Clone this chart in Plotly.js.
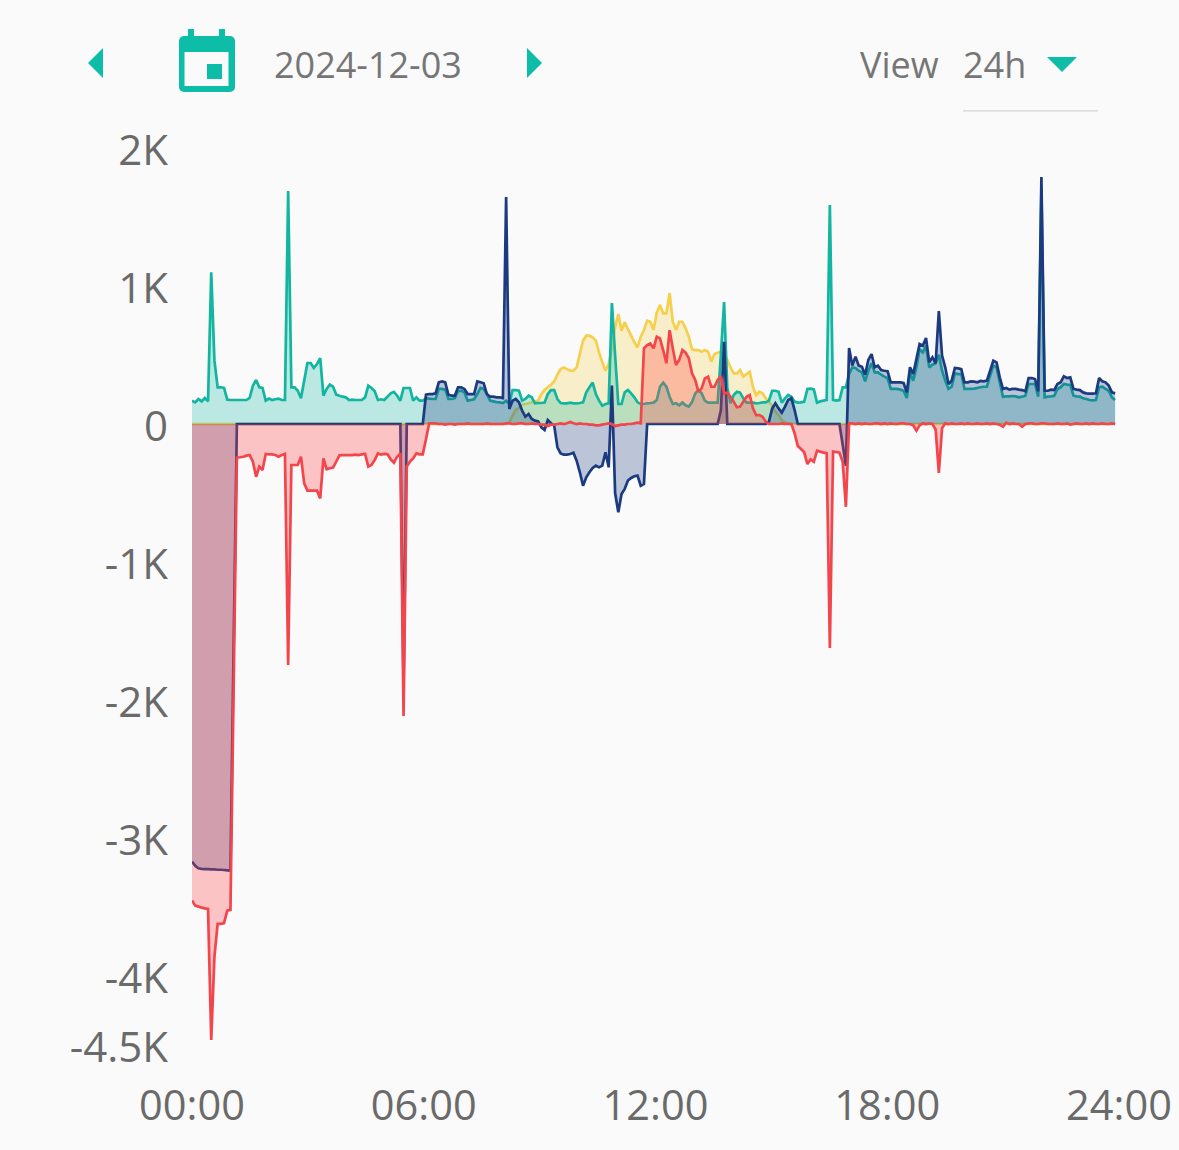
<!DOCTYPE html>
<html>
<head>
<meta charset="utf-8">
<script src="https://cdn.plot.ly/plotly-3.0.1.min.js"></script>
<style>
html,body{margin:0;padding:0;background:#fafafa;width:1179px;height:1150px;overflow:hidden}
#chart{position:absolute;left:0;top:0;width:1179px;height:1150px}
.t{position:absolute;font-family:"Open Sans",sans-serif;font-size:36px;color:#767676;line-height:40px;white-space:nowrap}
#icons{position:absolute;left:0;top:0}
</style>
</head>
<body>
<div id="chart"></div>
<svg id="icons" width="1179" height="120" viewBox="0 0 1179 120">
<polygon points="103,48 103,78 88,63" fill="#0dbda7"/>
<polygon points="527,48 527,78 542,63" fill="#0dbda7"/>
<polygon points="1047,57 1077,57 1062,72" fill="#0dbda7"/>
<rect x="188" y="29" width="6" height="10" fill="#0dbda7"/>
<rect x="219" y="29" width="6" height="10" fill="#0dbda7"/>
<rect x="179" y="36" width="56" height="56" rx="5" fill="#0dbda7"/>
<rect x="184.5" y="52" width="44" height="34" fill="#fafafa"/>
<rect x="207" y="64" width="15" height="15" fill="#0dbda7"/>
<rect x="963" y="110" width="135" height="1.6" fill="#dcdcdc"/>
</svg>
<div class="t" style="left:274px;top:45px">2024-12-03</div>
<div class="t" style="left:860px;top:45px">View</div>
<div class="t" style="left:963px;top:45px">24h</div>
<script>
const tickHours = [0, 6, 12, 18, 24];
const tickLabels = ['00:00', '06:00', '12:00', '18:00', '24:00'];
const yTickValues = [2000, 1000, 0, -1000, -2000, -3000, -4000, -4500];
const yTickLabels = ['2K', '1K', '0', '-1K', '-2K', '-3K', '-4K', '-4.5K'];
const lastSampleHour = 23.9;

const consumption = [
169,157,181,164,188,164,1100,459,266,266,
261,176,174,174,174,174,174,174,190,278,
319,266,261,169,184,174,179,184,174,174,
1688,266,266,241,186,314,442,442,406,435,
478,205,254,285,270,213,205,198,193,174,
176,174,174,174,193,278,261,237,174,179,
174,198,222,232,205,169,261,261,261,169,
193,169,169,188,184,181,181,254,254,249,
181,181,188,237,241,229,169,174,179,217,
261,254,217,169,164,159,157,152,169,145,
246,246,241,169,181,205,193,150,152,152,
155,217,246,246,181,152,150,150,155,150,
150,152,157,229,266,300,217,169,133,145,
150,877,500,145,145,229,246,222,193,157,
145,145,150,152,155,174,270,300,270,198,
145,150,135,155,135,126,159,222,246,222,
169,155,155,155,155,500,884,260,150,210,
234,227,186,155,155,155,150,152,157,157,
169,241,241,234,155,186,210,198,162,155,
157,162,254,256,251,155,164,169,174,1587,
174,169,174,266,266,362,410,406,386,374,
309,386,440,374,374,357,343,333,254,254,
254,249,241,188,374,314,410,543,519,568,
410,430,440,502,386,314,254,270,367,362,
362,254,254,254,256,261,266,270,270,350,
423,410,302,198,200,200,203,200,193,198,
205,290,290,290,198,1700,193,198,200,205,
254,266,290,285,283,205,200,198,186,181,
174,171,174,266,270,254,241,193,174
];

const grid = [
-3171,-3202,-3219,-3224,-3226,-3226,-3228,-3228,-3230,-3230,
-3232,-3234,-3236,-1600,0,0,0,0,0,0,
0,0,0,0,0,0,0,0,0,0,
0,0,0,0,0,0,0,0,0,0,
0,0,0,0,0,0,0,0,0,0,
0,0,0,0,0,0,0,0,0,0,
0,0,0,0,0,0,-1900,0,0,0,
0,0,0,212,217,217,222,302,309,302,
212,205,205,266,266,254,217,217,217,309,
302,295,217,198,198,193,193,188,1645,109,
169,181,157,97,53,72,36,24,19,-24,
-43,29,5,-12,-169,-213,-222,-222,-217,-208,
-266,-350,-447,-386,-350,-319,-302,-314,-302,-205,
-314,278,-500,-640,-507,-470,-410,-391,-379,-374,
-447,-435,0,0,0,0,0,0,0,0,
0,0,0,0,0,0,0,0,0,0,
0,0,0,0,0,100,596,0,0,0,
0,0,0,0,0,0,0,0,0,0,
17,113,150,113,82,126,174,186,101,0,
0,0,0,0,0,0,0,0,0,0,
0,0,0,-150,-302,550,423,488,423,415,
357,464,507,411,423,391,386,382,302,302,
302,302,297,229,411,362,471,580,568,623,
447,483,440,819,495,411,290,314,406,403,
398,302,302,309,307,302,312,309,314,386,
459,447,338,254,261,249,254,254,249,246,
237,333,333,326,237,1790,241,241,249,246,
290,302,345,333,338,254,249,246,229,222,
220,220,222,333,309,302,278,229,222
];

const solar = [
0,0,0,0,0,0,0,0,0,0,
0,0,0,0,0,0,0,0,0,0,
0,0,0,0,0,0,0,0,0,0,
0,0,0,0,0,0,0,0,0,0,
0,0,0,0,0,0,0,0,0,0,
0,0,0,0,0,0,0,0,0,0,
0,0,0,0,0,0,0,0,0,0,
0,0,0,0,0,0,0,0,0,0,
0,0,0,0,0,0,0,0,0,0,
0,0,0,0,0,0,0,0,0,12,
60,101,116,140,145,150,157,164,169,217,
246,266,285,309,357,398,410,398,386,386,
410,507,604,640,640,628,604,519,447,386,
435,555,700,797,676,737,688,640,592,555,
633,680,749,741,681,807,862,802,802,949,
741,681,741,741,693,633,541,536,536,524,
536,524,452,507,517,524,507,464,411,367,
367,391,343,362,379,270,210,234,222,186,
162,130,89,65,29,10,5,0,0,0,
0,0,0,0,0,0,0,0,0,0,
0,0,0,0,0,0,0,0,0,0,
0,0,0,0,0,0,0,0,0,0,
0,0,0,0,0,0,0,0,0,0,
0,0,0,0,0,0,0,0,0,0,
0,0,0,0,0,0,0,0,0,0,
0,0,0,0,0,0,0,0,0,0,
0,0,0,0,0,0,0,0,0,0,
0,0,0,0,0,0,0,0,0,0,
0,0,0,0,0,0,0,0,0
];

const battery = [
-3453,-3490,-3497,-3505,-3510,-3514,-4463,-3860,-3622,-3622,
-3617,-3526,-3521,-1900,-244,-241,-237,-229,-225,-273,
-382,-309,-333,-217,-220,-220,-225,-237,-225,-217,
-1746,-297,-297,-297,-237,-430,-483,-483,-483,-483,
-539,-249,-328,-321,-316,-273,-227,-225,-225,-225,
-225,-222,-225,-220,-217,-309,-297,-261,-213,-222,
-217,-220,-256,-280,-237,-213,-2116,-309,-273,-249,
-213,-220,-220,-110,5,5,5,0,0,-5,
0,0,-5,0,0,0,5,0,0,0,
0,0,5,0,0,0,0,0,5,5,
0,0,5,5,0,0,5,0,0,-5,
-5,-15,-5,-5,0,5,0,5,15,5,
0,5,0,0,-5,-5,-10,-10,-5,0,
5,0,-15,-10,-5,-5,0,0,5,10,
5,548,572,584,548,633,620,536,440,680,
548,427,464,536,517,476,367,319,234,258,
331,343,270,270,319,348,222,227,198,162,
121,126,162,198,210,113,65,65,53,17,
0,0,0,0,5,0,0,0,-68,-159,
-181,-205,-290,-256,-273,-193,-200,-208,-212,-1623,
-200,-203,-208,-273,-600,5,5,0,5,0,
5,0,0,5,5,0,5,0,5,0,
0,5,5,0,0,-10,-48,-10,5,0,
5,0,-40,-355,-30,5,0,5,0,0,
5,0,5,0,0,5,0,0,5,0,
5,0,-5,-20,10,0,5,0,0,-20,
0,5,5,0,0,5,5,0,0,0,
5,0,0,5,-5,0,5,0,0,5,
0,5,0,0,5,0,0,5,0
];

const hours = consumption.map((_, i) => i * lastSampleHour / (consumption.length - 1));

function series(name, values, line, fill) {
  return {
    type: 'scatter', mode: 'lines', name: name, x: hours, y: values,
    fill: 'tozeroy', fillcolor: fill,
    line: {color: line, width: 2.7, shape: 'linear', simplify: false},
    hoverinfo: 'skip'
  };
}

const traces = [
  series('Solar', solar, '#f6d04d', 'rgba(246,208,77,0.28)'),
  series('Consumption', consumption, '#12b5a0', 'rgba(18,185,165,0.27)'),
  series('Grid', grid, '#1b3a80', 'rgba(27,58,128,0.28)'),
  series('Battery', battery, '#f2464c', 'rgba(255,70,70,0.30)')
];

const xTickFont = {family: '"Open Sans", sans-serif', size: 41.5, color: '#6a6a6a'};
const yTickFont = {family: '"Open Sans", sans-serif', size: 42, color: '#6a6a6a'};

Plotly.newPlot('chart', traces, {
  width: 1179, height: 1150,
  margin: {l: 192, r: 60, t: 148, b: 105, pad: 0},
  paper_bgcolor: '#fafafa', plot_bgcolor: '#fafafa',
  showlegend: false,
  xaxis: {
    range: [0, 24], tickmode: 'array', tickvals: tickHours, ticktext: tickLabels,
    showgrid: false, zeroline: false, showline: false, ticks: '', tickfont: xTickFont,
    ticklabelstandoff: 32
  },
  yaxis: {
    range: [-4500, 2000], tickmode: 'array', tickvals: yTickValues, ticktext: yTickLabels,
    showgrid: false, zeroline: false, showline: false, ticks: '', tickfont: yTickFont,
    ticklabelstandoff: 23, ticklabelshift: 2
  }
}, {staticPlot: true, displayModeBar: false});
</script>
</body>
</html>
